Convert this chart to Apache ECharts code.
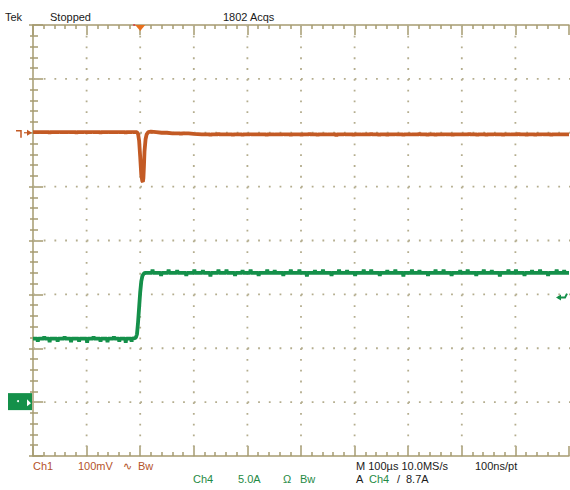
<!DOCTYPE html>
<html>
<head>
<meta charset="utf-8">
<script src="https://cdn.jsdelivr.net/npm/echarts@6/dist/echarts.min.js"></script>
<style>
html,body{margin:0;padding:0;background:#fff;}
#chart{width:570px;height:490px;}
</style>
</head>
<body>
<div id="chart"></div>
<script>
// ---- data: [time µs, value]; Ch1 in mV, Ch4 in A ----
const ch1Samples = [
  [0,1],[12,1],[13,3],[14,1],[30,1],[31,-1],[32,1],[48,1],[49,3],[50,1],[66,1],[67,2.5],[68,1],
  [80,1],[81,-1],[82,1],[95,1],[96,3],[97,1],[110,1],[111,3],[112,1],[125,1],[126,-1],[127,1],
  [140,1],[141,3],[142,1],[158,1],[159,2.5],[160,1],[172,1],[173,-1],[174,1],[185,1],[186,3],[187,1],[194,1],
  [196,-2],[198,-15],[200,-45],[202,-78],[204,-90],[205,-91],[206,-84],[207,-62],[208,-35],[210,-12],[212,-3],
  [215,1],[220,2],[230,1],[240,0],[250,0],[260,-1],[275,-1],[276,-4],[277,-1],[290,-1],[300,-2],
  [315,-3],[330,-3],[331,-6],[332,-3],[345,-3],[346,0],[347,-3],[360,-3],[372,-3],[373,-6],[374,-3],
  [390,-3],[391,-5.5],[392,-3],[405,-3],[406,-1],[407,-3],[420,-3],[435,-3],[436,-6],[437,-3],
  [450,-3],[451,-5],[452,-3],[466,-3],[467,-1],[468,-3],[480,-3],[481,-6],[482,-3],
  [500,-3],[501,-5.5],[502,-3],[515,-3],[516,0],[517,-3],[530,-3],[531,-6],[532,-3],
  [548,-3],[549,-5],[550,-3],[565,-3],[566,-6.5],[567,-3],[580,-3],[581,-1],[582,-3],
  [597,-3],[598,-6],[599,-3],[612,-3],[613,-5],[614,-3],[630,-3],[631,-0.5],[632,-3],
  [645,-3],[646,-6],[647,-3],[660,-3],[661,-5.5],[662,-3],[676,-3],[677,-1],[678,-3],
  [690,-3],[691,-6],[692,-3],[705,-3],[706,-5],[707,-3],[720,-3],[721,-0.5],[722,-3],
  [735,-3],[736,-6],[737,-3],[750,-3],[751,-5.5],[752,-3],[768,-3],[769,-1],[770,-3],
  [782,-3],[783,-6],[784,-3],[798,-3],[799,-5],[800,-3],[813,-3],[814,-0.5],[815,-3],
  [828,-3],[829,-6],[830,-3],[845,-3],[846,-5.5],[847,-3],[860,-3],[861,-1],[862,-3],
  [876,-3],[877,-6],[878,-3],[890,-3],[891,-5],[892,-3],[905,-3],[906,-0.5],[907,-3],
  [920,-3],[921,-6],[922,-3],[936,-3],[937,-5.5],[938,-3],[950,-3],[951,-1],[952,-3],
  [966,-3],[967,-6],[968,-3],[982,-3],[983,-5],[984,-3],[1000,-3]
];

const ch4Samples = [
  [0,5.9],[8,5.9],[9,5.6],[10,5.9],[20,5.9],[21,6.1],[22,5.9],[30,5.9],[31,5.55],[32,5.9],
  [45,5.9],[46,5.6],[47,5.9],[58,5.9],[59,6.1],[60,5.9],[70,5.9],[71,5.55],[72,5.9],
  [85,5.9],[86,5.6],[87,5.9],[100,5.9],[101,5.5],[102,5.9],[112,5.9],[113,6.1],[114,5.9],
  [125,5.9],[126,5.6],[127,5.9],[138,5.9],[139,5.55],[140,5.9],[150,5.9],[151,6.1],[152,5.9],
  [160,5.9],[161,5.6],[162,5.9],[172,5.9],[173,5.5],[174,5.9],[183,5.9],[184,5.6],[185,5.9],
  [190,5.95],[192,6.0],[194,6.3],[196,7.4],[198,8.8],[200,10.2],[202,11.2],[204,11.7],[207,11.95],[210,12],
  [222,12],[223,12.3],[224,12],[238,12],[239,11.7],[240,12],[252,12],[253,12.3],[254,12],
  [268,12],[269,12.25],[270,12],[285,12],[286,11.7],[287,12],[300,12],[301,12.3],[302,12],
  [316,12],[317,12.25],[318,12],[330,12],[331,11.65],[332,12],[345,12],[346,12.3],[347,12],
  [360,12],[361,12.3],[362,12],[376,12],[377,11.7],[378,12],[390,12],[391,12.25],[392,12],
  [405,12],[406,12.3],[407,12],[420,12],[421,11.7],[422,12],[436,12],[437,12.3],[438,12],
  [450,12],[451,12.25],[452,12],[466,12],[467,11.7],[468,12],[480,12],[481,12.3],[482,12],
  [496,12],[497,12.3],[498,12],[510,12],[511,11.65],[512,12],[525,12],[526,12.25],[527,12],
  [540,12],[541,12.3],[542,12],[556,12],[557,11.7],[558,12],[570,12],[571,12.3],[572,12],
  [585,12],[586,12.25],[587,12],[600,12],[601,11.7],[602,12],[616,12],[617,12.3],[618,12],
  [630,12],[631,12.3],[632,12],[646,12],[647,11.7],[648,12],[660,12],[661,12.25],[662,12],
  [675,12],[676,12.3],[677,12],[690,12],[691,11.65],[692,12],[706,12],[707,12.3],[708,12],
  [720,12],[721,12.25],[722,12],[736,12],[737,11.7],[738,12],[750,12],[751,12.3],[752,12],
  [765,12],[766,12.3],[767,12],[780,12],[781,11.7],[782,12],[796,12],[797,12.25],[798,12],
  [810,12],[811,12.3],[812,12],[826,12],[827,11.7],[828,12],[840,12],[841,12.3],[842,12],
  [855,12],[856,12.25],[857,12],[870,12],[871,11.65],[872,12],[886,12],[887,12.3],[888,12],
  [900,12],[901,12.3],[902,12],[916,12],[917,11.7],[918,12],[930,12],[931,12.25],[932,12],
  [945,12],[946,12.3],[947,12],[960,12],[961,11.7],[962,12],[976,12],[977,12.3],[978,12],
  [990,12],[991,12.25],[992,12],[1000,12]
];

const gridTimes = [100,200,300,400,500,600,700,800,900];   // µs, dotted vertical graticule
const gridCh1 = [-500,-400,-300,-200,-100,0,100];           // mV, dotted horizontal graticule

const triggerTime = 200;      // µs, trigger position marker
const triggerLevel = 9.7;     // A, right-edge trigger arrow as drawn
const ch1Ground = 0, ch4Ground = 0;

const topTexts = [["Tek",5],["Stopped",50],["1802 Acqs",223]];

// ---- styles ----
const ORANGE = '#c35a24', GREEN = '#14904a', FRAME = '#a69b70', DOT = '#b4ad8e';
const FONT = '"Liberation Sans", Arial, sans-serif';

const chart = echarts.init(document.getElementById('chart'), null, {renderer: 'svg'});

function xAxisCfg(pos) {
  return {
    type: 'value', position: pos, min: 0, max: 1000, interval: 100,
    axisLine: {show: true, onZero: false, lineStyle: {color: FRAME, width: 1.5}},
    axisTick: {show: true, inside: true, length: 10, lineStyle: {color: FRAME, width: 1.5}},
    minorTick: {show: true, splitNumber: 5, length: 4, lineStyle: {color: FRAME, width: 1.5}},
    axisLabel: {show: false},
    splitLine: {show: false}, minorSplitLine: {show: false}
  };
}

chart.setOption({
  animation: false,
  backgroundColor: '#fff',
  grid: {left: 33, top: 25, width: 536, height: 431, containLabel: false},
  xAxis: [xAxisCfg('bottom'), xAxisCfg('top')],
  yAxis: [
    { type: 'value', position: 'left', min: -600, max: 200, interval: 100,
      axisLine: {show: true, onZero: false, lineStyle: {color: FRAME, width: 1.5}},
      axisTick: {show: true, inside: true, length: 10, lineStyle: {color: FRAME, width: 1.5}},
      minorTick: {show: true, splitNumber: 5, length: 5, lineStyle: {color: FRAME, width: 1.5}},
      axisLabel: {show: false}, splitLine: {show: false} },
    { type: 'value', show: false, min: -5, max: 35, interval: 5, splitLine: {show: false} },
    { type: 'value', position: 'right', min: 0, max: 8, interval: 1,
      axisLine: {show: false},
      axisTick: {show: true, inside: true, length: 4, lineStyle: {color: FRAME, width: 1.5}},
      minorTick: {show: true, splitNumber: 5, length: 3, lineStyle: {color: FRAME, width: 1.5}},
      axisLabel: {show: false}, splitLine: {show: false} }
  ],
  series: [
    { name: 'Ch1', type: 'line', xAxisIndex: 0, yAxisIndex: 0, showSymbol: false, z: 5,
      lineStyle: {color: ORANGE, width: 3.8, join: 'bevel'}, itemStyle: {color: ORANGE},
      data: ch1Samples },
    { name: 'Ch4', type: 'line', xAxisIndex: 0, yAxisIndex: 1, showSymbol: false, z: 5,
      lineStyle: {color: GREEN, width: 3.8, join: 'bevel'}, itemStyle: {color: GREEN},
      data: ch4Samples }
  ]
});

// ---- annotations positioned through the axes ----
const X0 = chart.convertToPixel({xAxisIndex: 0}, 0);
const X1 = chart.convertToPixel({xAxisIndex: 0}, 1000);
const Y0 = chart.convertToPixel({yAxisIndex: 0}, 200);
const Y1 = chart.convertToPixel({yAxisIndex: 0}, -600);
const g1 = chart.convertToPixel({yAxisIndex: 0}, ch1Ground);
const g4 = chart.convertToPixel({yAxisIndex: 1}, ch4Ground);
const tx = chart.convertToPixel({xAxisIndex: 0}, triggerTime);
const ty = chart.convertToPixel({yAxisIndex: 1}, triggerLevel);

function txt(s, x, y, color, size) {
  return {type: 'text', x: x, y: y, z: 100,
    style: {text: s, fill: color, font: (size || 11) + 'px ' + FONT, textVerticalAlign: 'middle'}};
}

const graphics = [];
// dotted graticule
const vStep = (Y1 - Y0) / 40, hStep = (X1 - X0) / 50;
gridTimes.forEach(t => {
  const x = chart.convertToPixel({xAxisIndex: 0}, t);
  graphics.push({type: 'line', z: 1, silent: true, shape: {x1: x, y1: Y0, x2: x, y2: Y1 + 1},
    style: {stroke: DOT, lineWidth: 1.8, lineDash: [1.8, vStep - 1.8]}});
});
gridCh1.forEach(v => {
  const y = chart.convertToPixel({yAxisIndex: 0}, v);
  graphics.push({type: 'line', z: 1, silent: true, shape: {x1: X0, y1: y, x2: X1 + 1, y2: y},
    style: {stroke: DOT, lineWidth: 1.8, lineDash: [1.8, hStep - 1.8]}});
});

topTexts.forEach(t => graphics.push(txt(t[0], t[1], 17, '#1a1a1a')));

// Ch1 ground marker
graphics.push({type: 'polyline', z: 100, shape: {points: [[16, g1 - 2], [21, g1 - 2], [21, g1 + 5]]},
  style: {stroke: ORANGE, lineWidth: 1.5, fill: null}});
graphics.push({type: 'polygon', z: 100, shape: {points: [[27, g1 - 3], [32, g1], [27, g1 + 3]]},
  style: {fill: ORANGE}});
graphics.push({type: 'line', z: 100, shape: {x1: 24, y1: g1, x2: 29, y2: g1},
  style: {stroke: ORANGE, lineWidth: 1.2}});

// Ch4 ground marker box
graphics.push({type: 'rect', z: 100, shape: {x: 8, y: g4 - 9, width: 24, height: 17},
  style: {fill: GREEN}});
graphics.push({type: 'circle', z: 101, shape: {cx: 18, cy: g4 - 1, r: 1}, style: {fill: '#fff'}});
graphics.push({type: 'polygon', z: 101, shape: {points: [[27, g4 - 3], [31, g4 + 1], [27, g4 + 4]]},
  style: {fill: '#fff'}});

// trigger position marker at top
graphics.push({type: 'polygon', z: 100, shape: {points: [[tx - 5, Y0], [tx + 5, Y0], [tx, Y0 + 6]]},
  style: {fill: '#e8701e'}});
graphics.push({type: 'line', z: 100, shape: {x1: tx - 7, y1: Y0, x2: tx - 5, y2: Y0},
  style: {stroke: '#d8343a', lineWidth: 1.5}});

// trigger level arrow at right
graphics.push({type: 'polyline', z: 100, shape: {points: [[558, ty], [565, ty], [567, ty - 4]]},
  style: {stroke: GREEN, lineWidth: 2, fill: null}});
graphics.push({type: 'polygon', z: 100, shape: {points: [[556, ty], [561, ty - 3], [561, ty + 3]]},
  style: {fill: GREEN}});

// bottom readout
const r1 = 466, r2 = 479;
graphics.push(txt('Ch1', 33, r1, '#b4532a'));
graphics.push(txt('100mV', 78, r1, '#b4532a'));
graphics.push(txt('\u223F', 123, r1, '#b4532a'));
graphics.push(txt('Bw', 138, r1, '#b4532a'));
graphics.push(txt('M 100\u00B5s 10.0MS/s', 356, r1, '#1a1a1a'));
graphics.push(txt('100ns/pt', 475, r1, '#1a1a1a'));
graphics.push(txt('Ch4', 193, r2, '#1f8a44'));
graphics.push(txt('5.0A', 238, r2, '#1f8a44'));
graphics.push(txt('\u03A9', 283, r2, '#1f8a44'));
graphics.push(txt('Bw', 300, r2, '#1f8a44'));
graphics.push(txt('A', 356, r2, '#1a1a1a'));
graphics.push(txt('Ch4', 369, r2, '#1f8a44'));
graphics.push(txt('/', 397, r2, '#1a1a1a'));
graphics.push(txt('8.7A', 406, r2, '#1a1a1a'));

chart.setOption({graphic: graphics});
</script>
</body>
</html>
